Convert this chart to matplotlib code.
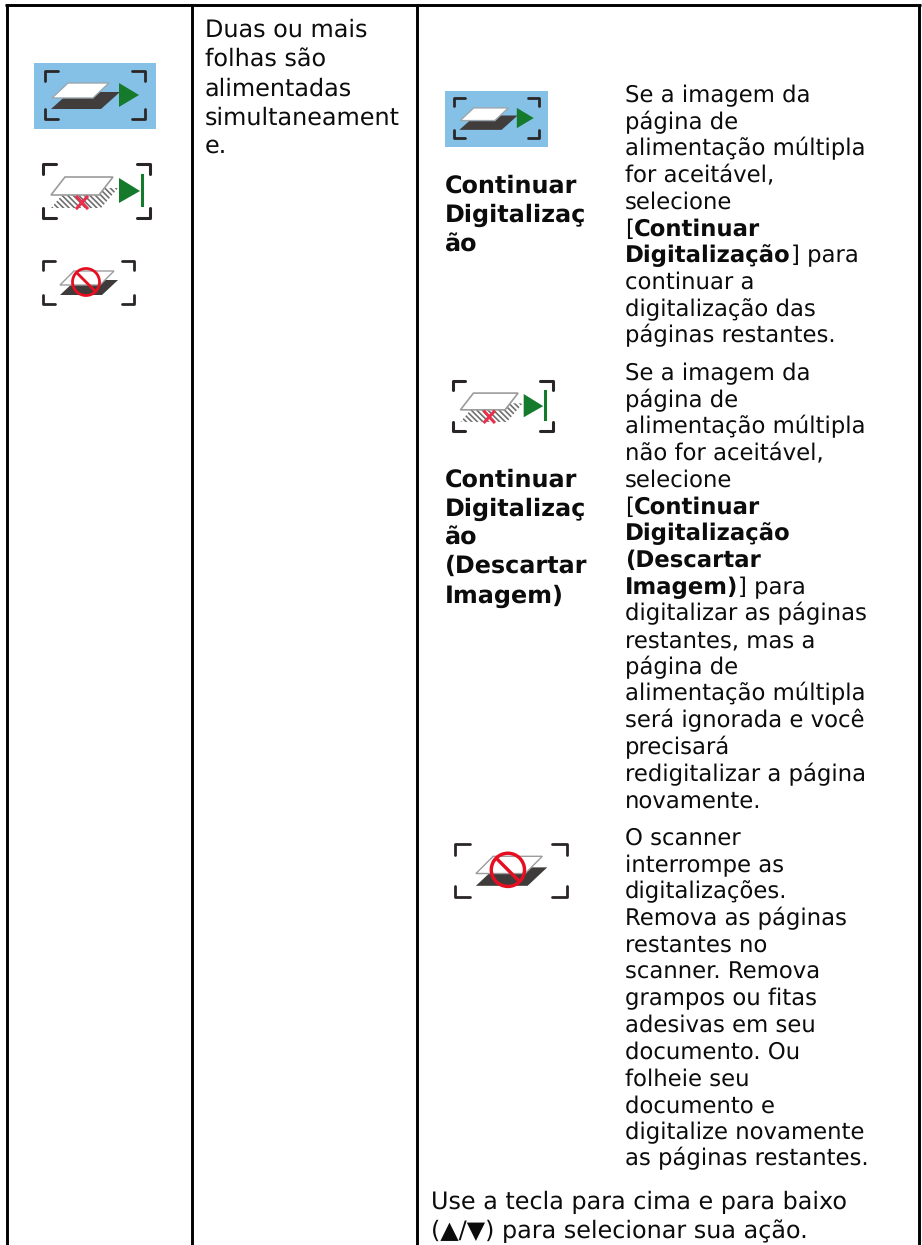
"""
Scanner manual table: multi-feed actions, drawn in pixel coordinates.
"""

import matplotlib
matplotlib.use("Agg")
import matplotlib.pyplot as plt
from matplotlib.patches import Polygon, Rectangle, Circle

W, H = 922, 1245

col_two = ["Duas ou mais", "folhas são", "alimentadas", "simultaneament", "e."]
col_two_y = [37, 66, 96, 125, 153]

labels_one = ["Continuar", "Digitalizaç", "ão"]
labels_one_y = [193, 222, 252]
labels_two = ["Continuar", "Digitalizaç", "ão", "(Descartar", "Imagem)"]
labels_two_y = [487, 516, 545, 573, 603]

# (text, bold) runs per line
desc_one = [
    [("Se a imagem da", 0)], [("página de", 0)], [("alimentação múltipla", 0)],
    [("for aceitável,", 0)], [("selecione", 0)], [("[", 0), ("Continuar", 1)],
    [("Digitalização", 1), ("] para", 0)], [("continuar a", 0)],
    [("digitalização das", 0)], [("páginas restantes.", 0)],
]
desc_two = [
    [("Se a imagem da", 0)], [("página de", 0)], [("alimentação múltipla", 0)],
    [("não for aceitável,", 0)], [("selecione", 0)], [("[", 0), ("Continuar", 1)],
    [("Digitalização", 1)], [("(Descartar", 1)], [("Imagem)", 1), ("] para", 0)],
    [("digitalizar as páginas", 0)], [("restantes, mas a", 0)], [("página de", 0)],
    [("alimentação múltipla", 0)], [("será ignorada e você", 0)], [("precisará", 0)],
    [("redigitalizar a página", 0)], [("novamente.", 0)],
]
desc_three = [
    "O scanner", "interrompe as", "digitalizações.", "Remova as páginas",
    "restantes no", "scanner. Remova", "grampos ou fitas", "adesivas em seu",
    "documento. Ou", "folheie seu", "documento e", "digitalize novamente",
    "as páginas restantes.",
]
footer = ["Use a tecla para cima e para baixo", "(▲/▼) para selecionar sua ação."]
footer_y = [1209, 1238]

FS_SMALL = 16.35
FS_LARGE = 17.2
LINE_STEP = 26.72
TXT = "#0c0c0c"

plt.rcParams["hatch.linewidth"] = 1.2
plt.rcParams["text.hinting"] = "no_hinting"

fig = plt.figure(figsize=(W / 100, H / 100), dpi=100)
ax = fig.add_axes([0, 0, 1, 1])
ax.set_xlim(0, W)
ax.set_ylim(H, 0)
ax.axis("off")


def put(x, y, s, bold=False, fs=FS_SMALL):
    return ax.text(x, y, s, fontsize=fs, color=TXT, va="baseline", ha="left",
                   fontweight="bold" if bold else "normal", family="DejaVu Sans")


def put_runs(x, y, runs):
    renderer = fig.canvas.get_renderer()
    for s, bold in runs:
        t = put(x, y, s, bold)
        x = t.get_window_extent(renderer).x1


def brackets(x0, y0, x1, y1, lw=2.0, arm=13):
    for cx, cy, dx, dy in [(x0, y0, 1, 1), (x1, y0, -1, 1), (x0, y1, 1, -1), (x1, y1, -1, -1)]:
        ax.plot([cx + dx * arm, cx, cx], [cy, cy, cy + dy * arm * 0.75],
                color="#2b2626", lw=lw, solid_capstyle="round", solid_joinstyle="round")


def sheet(x, y, w, h, skew, **kw):
    ax.add_patch(Polygon([(x + skew, y), (x + w + skew, y), (x + w, y + h), (x, y + h)],
                         closed=True, **kw))


def icon_continue(x, y, s=1.0):
    # x, y = top left of the blue tile
    ax.add_patch(Rectangle((x, y), 122 * s, 66 * s, fc="#85c1e6", ec="none"))
    brackets(x + 11 * s, y + 8 * s, x + 111 * s, y + 56 * s, arm=13 * s)
    sheet(x + 17 * s, y + 29 * s, 50 * s, 17 * s, 19 * s, fc="#423d3d", ec="none")
    sheet(x + 18 * s, y + 20 * s, 41 * s, 15 * s, 16 * s, fc="white", ec="#9aa7ad", lw=1)
    ax.add_patch(Polygon([(x + 85 * s, y + 20 * s), (x + 105 * s, y + 32 * s), (x + 85 * s, y + 44 * s)],
                         closed=True, fc="#157a2c", ec="none"))


def icon_discard(x, y, s=1.0):
    # x, y = top left of the bracket box
    brackets(x, y, x + 107 * s, y + 54 * s, lw=2.2, arm=13 * s)
    sheet(x + 8 * s, y + 24 * s, 50 * s, 20 * s, 17 * s, fc="white", ec="#6f6f6f",
          hatch="\\\\\\\\\\\\", lw=0)
    sheet(x + 8 * s, y + 13 * s, 48 * s, 18 * s, 14 * s, fc="white", ec="#9c9c9c", lw=1.2)
    ax.plot([x + 34 * s, x + 44 * s], [y + 33 * s, y + 44 * s], color="#e8304d", lw=2.2)
    ax.plot([x + 44 * s, x + 34 * s], [y + 33 * s, y + 44 * s], color="#e8304d", lw=2.2)
    ax.add_patch(Polygon([(x + 76 * s, y + 14 * s), (x + 97 * s, y + 27 * s), (x + 76 * s, y + 39 * s)],
                         closed=True, fc="#157a2c", ec="none"))
    ax.plot([x + 99 * s, x + 99 * s], [y + 11 * s, y + 41 * s], color="#157a2c", lw=2.2)


def icon_stop(x, y, s=1.0):
    brackets(x, y, x + 91 * s, y + 43 * s, arm=12 * s)
    sheet(x + 17 * s, y + 19 * s, 42 * s, 15 * s, 16 * s, fc="#3f3b3b", ec="none")
    sheet(x + 17 * s, y + 10 * s, 40 * s, 14 * s, 14 * s, fc="white", ec="#9c9c9c", lw=1)
    ax.add_patch(Circle((x + 43 * s, y + 21 * s), 13.5 * s, fc="none", ec="#e60f22", lw=2.0 * s))
    ax.plot([x + 34 * s, x + 52 * s], [y + 12 * s, y + 30 * s], color="#e60f22", lw=2.0 * s)


# table rules
for xl in [6.5, 192, 416.5, 919]:
    ax.plot([xl, xl], [4, H], color="black", lw=2.1, solid_capstyle="butt")
ax.plot([5, 921], [5.3, 5.3], color="black", lw=2.1, solid_capstyle="butt")

# first column icons
icon_continue(34, 63)
icon_discard(43, 164)
icon_stop(43, 261)

# second column
for s, y in zip(col_two, col_two_y):
    put(205, y, s, fs=FS_LARGE)

# third column icons and labels
icon_continue(445, 91, 0.845)
icon_discard(453, 381, 0.93)
icon_stop(455, 844, 1.23)
for s, y in zip(labels_one, labels_one_y):
    put(445, y, s, True, fs=FS_LARGE)
for s, y in zip(labels_two, labels_two_y):
    put(445, y, s, True, fs=FS_LARGE)

# descriptions
for i, runs in enumerate(desc_one):
    put_runs(625, 102 + i * LINE_STEP, runs)
for i, runs in enumerate(desc_two):
    put_runs(625, 380 + i * LINE_STEP, runs)
for i, s in enumerate(desc_three):
    put(625, 845 + i * LINE_STEP, s)

for s, y in zip(footer, footer_y):
    put(431, y, s, fs=FS_LARGE)

fig.savefig("out.png", dpi=100)
